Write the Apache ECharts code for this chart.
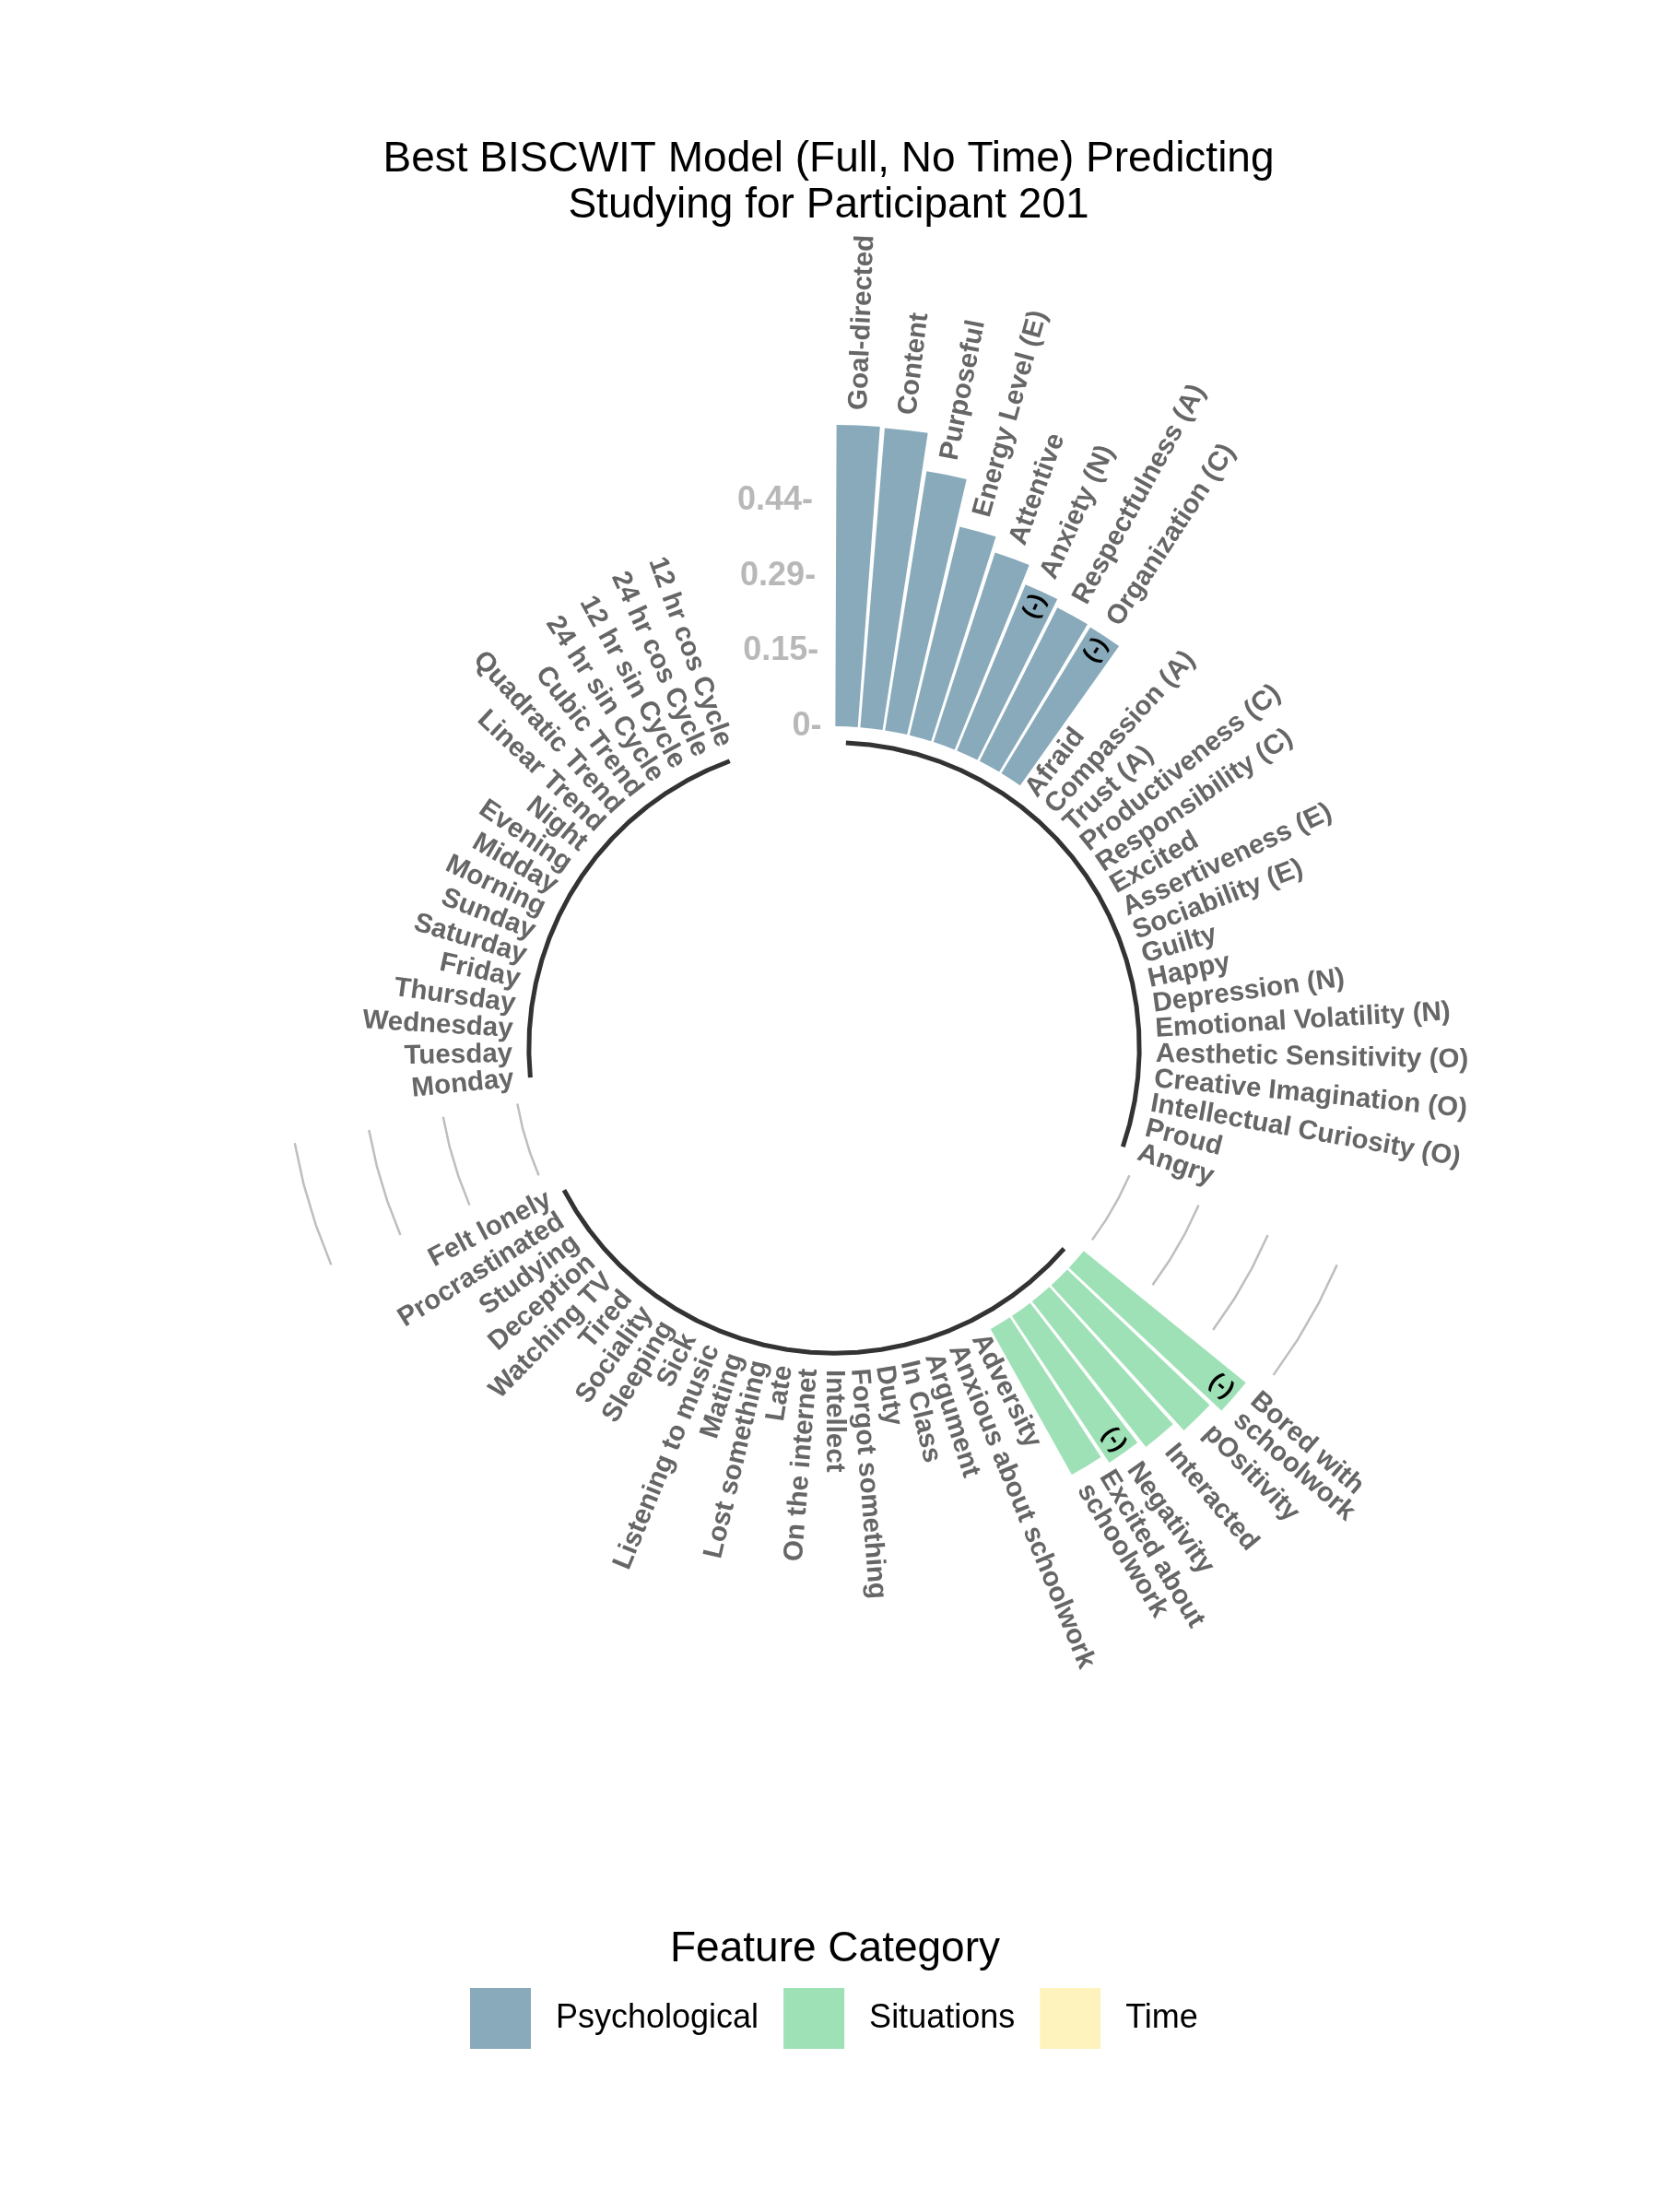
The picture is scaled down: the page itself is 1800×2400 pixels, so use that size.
<!DOCTYPE html>
<html>
<head>
<meta charset="utf-8">
<script src="https://cdn.jsdelivr.net/npm/echarts@6/dist/echarts.min.js"></script>
<style>
html, body { margin: 0; padding: 0; background: #ffffff; }
#chart { width: 1800px; height: 2400px; }
</style>
</head>
<body>
<div id="chart"></div>
<script>
// ---------------- data ----------------
const psychNames = [
  'Goal-directed', 'Content', 'Purposeful', 'Energy Level (E)', 'Attentive',
  'Anxiety (N)', 'Respectfulness (A)', 'Organization (C)', 'Afraid', 'Compassion (A)',
  'Trust (A)', 'Productiveness (C)', 'Responsibility (C)', 'Excited', 'Assertiveness (E)',
  'Sociability (E)', 'Guilty', 'Happy', 'Depression (N)', 'Emotional Volatility (N)',
  'Aesthetic Sensitivity (O)', 'Creative Imagination (O)', 'Intellectual Curiosity (O)', 'Proud', 'Angry'
];
const psychValues = [
  0.587, 0.585, 0.511, 0.418, 0.388,
  0.350, 0.335, 0.333, 0, 0,
  0, 0, 0, 0, 0,
  0, 0, 0, 0, 0,
  0, 0, 0, 0, 0
];
const psychNegative = ['Anxiety (N)', 'Organization (C)'];

const situationNames = [
  'Bored with\nschoolwork', 'pOsitivity', 'Interacted', 'Negativity', 'Excited about\nschoolwork',
  'Adversity', 'Anxious about schoolwork', 'Argument', 'In Class', 'Duty',
  'Forgot something', 'Intellect', 'On the internet', 'Late', 'Lost something',
  'Mating', 'Listening to music', 'Sick', 'Sleeping', 'Sociality',
  'Tired', 'Watching TV', 'Deception', 'Studying', 'Procrastinated', 'Felt lonely'
];
const situationValues = [
  0.407, 0.383, 0.360, 0.343, 0.325,
  0, 0, 0, 0, 0,
  0, 0, 0, 0, 0,
  0, 0, 0, 0, 0,
  0, 0, 0, 0, 0, 0
];
const situationNegative = ['Bored with\nschoolwork', 'Negativity'];

const timeNames = [
  'Monday', 'Tuesday', 'Wednesday', 'Thursday', 'Friday', 'Saturday', 'Sunday',
  'Morning', 'Midday', 'Evening', 'Night', 'Linear Trend', 'Quadratic Trend', 'Cubic Trend',
  '24 hr sin Cycle', '12 hr sin Cycle', '24 hr cos Cycle', '12 hr cos Cycle'
];
const timeValues = [0, 0, 0, 0, 0, 0, 0, 0, 0, 0, 0, 0, 0, 0, 0, 0, 0, 0];

const tickValues = [0, 0.1468, 0.2935, 0.4403];
const tickLabels = ['0-', '0.15-', '0.29-', '0.44-'];

const groupNames = ['Psychological', 'Situations', 'Time'];
const groupColors = ['#88AABB', '#9EE1B6', '#FFF3BD'];

// ---------------- layout constants ----------------
const EMPTY_SLOTS = 4;
const CENTER = [905, 1137];
const PX_PER_UNIT = 557;
const R_ZERO = 349;
const RADIUS_MIN = -R_ZERO / PX_PER_UNIT;
const RADIUS_MAX = 0.65;
const OUTER = (RADIUS_MAX - RADIUS_MIN) * PX_PER_UNIT;
const BASE_LEVEL = -0.032;
const LABEL_OFFSET = 0.03;
const MINUS_OFFSET = 0.032;
const FONT = '"Liberation Sans", Arial, Helvetica, sans-serif';

// ---------------- build slots ----------------
const groups = [
  { names: psychNames, values: psychValues, neg: psychNegative },
  { names: situationNames, values: situationValues, neg: situationNegative },
  { names: timeNames, values: timeValues, neg: [] }
];
const slots = [];
const groupRange = [];
groups.forEach((g, gi) => {
  const first = slots.length;
  g.names.forEach((n, i) => slots.push({ gi: gi, name: n, value: g.values[i], neg: g.neg.indexOf(n) >= 0 }));
  groupRange.push([first, slots.length - 1]);
  for (let k = 0; k < EMPTY_SLOTS; k++) slots.push({ gi: gi, name: null, value: null, neg: false });
});
const N = slots.length;
const categories = slots.map((s, i) => s.name ? s.name : ('gap' + i));

// labels
const labelItems = [];
const minusItems = [];
slots.forEach((s, i) => {
  if (!s.name) return;
  let ang = 90 - 360 * (i + 0.5) / N;
  let align = 'left';
  if (ang < -90) { ang += 180; align = 'right'; }
  labelItems.push({ value: [s.value > 0 ? s.value + LABEL_OFFSET : 0, i], text: s.name, rot: ang, align: align });
  if (s.neg) minusItems.push({ value: [s.value - MINUS_OFFSET, i], text: '(-)', rot: ang, align: 'center' });
});
const tickItems = tickValues.map((v, k) => ({ value: [v, N - 1], text: tickLabels[k], rot: 0, align: 'right' }));

function textSeries(items, color, size) {
  return {
    type: 'custom',
    coordinateSystem: 'polar',
    silent: true,
    z: 10,
    data: items.map(d => d.value),
    renderItem: function (params, api) {
      const it = items[params.dataIndex];
      const p = api.coord([api.value(0), api.value(1)]);
      return {
        type: 'text',
        x: p[0],
        y: p[1],
        rotation: it.rot * Math.PI / 180,
        style: {
          text: it.text,
          fill: color,
          fontSize: size,
          fontWeight: 'bold',
          fontFamily: FONT,
          align: it.align,
          verticalAlign: 'middle',
          lineHeight: 28
        }
      };
    }
  };
}

const series = [];
// bars
groupNames.forEach((gname, gi) => {
  series.push({
    name: gname,
    type: 'bar',
    coordinateSystem: 'polar',
    barGap: '-100%',
    barCategoryGap: '10%',
    itemStyle: { color: groupColors[gi] },
    data: slots.map(s => (s.gi === gi && s.name) ? s.value : null),
    z: 2
  });
});
// base black arcs
groupRange.forEach(rg => {
  const pts = [];
  for (let i = rg[0]; i <= rg[1]; i++) pts.push([BASE_LEVEL, i]);
  series.push({
    type: 'line', coordinateSystem: 'polar', data: pts, showSymbol: false, silent: true,
    lineStyle: { color: '#333333', width: 5 }, z: 3
  });
});
// grey grid arcs in gaps before groups 2 and 3
for (let gi = 1; gi < groupRange.length; gi++) {
  const from = groupRange[gi - 1][1] + 1;
  const to = groupRange[gi][0] - 1;
  tickValues.forEach(v => {
    const pts = [];
    for (let i = from; i <= to; i++) pts.push([v, i]);
    series.push({
      type: 'line', coordinateSystem: 'polar', data: pts, showSymbol: false, silent: true,
      lineStyle: { color: '#bebebe', width: 2.5 }, z: 1
    });
  });
}
series.push(textSeries(labelItems, '#666666', 29.5));
series.push(textSeries(minusItems, '#000000', 26));
series.push(textSeries(tickItems, '#b8b8b8', 36));

const option = {
  animation: false,
  backgroundColor: '#ffffff',
  textStyle: { fontFamily: FONT },
  title: [
    {
      text: 'Best BISCWIT Model (Full, No Time) Predicting\nStudying for Participant 201',
      left: 899,
      top: 148,
      padding: 0,
      textAlign: 'center',
      textStyle: { fontSize: 46, fontWeight: 'normal', color: '#000000', lineHeight: 50, fontFamily: FONT }
    },
    {
      text: 'Feature Category',
      left: 906,
      top: 2092,
      padding: 0,
      textAlign: 'center',
      textStyle: { fontSize: 46, fontWeight: 'normal', color: '#000000', lineHeight: 46, fontFamily: FONT }
    }
  ],
  legend: {
    data: groupNames,
    left: 510,
    top: 2157,
    padding: 0,
    orient: 'horizontal',
    icon: 'rect',
    itemWidth: 66,
    itemHeight: 66,
    itemGap: 27,
    selectedMode: false,
    textStyle: { fontSize: 36, color: '#000000', fontFamily: FONT, padding: [0, 0, 0, 22] }
  },
  polar: { center: CENTER, radius: [0, OUTER] },
  angleAxis: {
    type: 'category',
    data: categories,
    startAngle: 90,
    clockwise: true,
    boundaryGap: true,
    axisLine: { show: false },
    axisTick: { show: false },
    axisLabel: { show: false },
    splitLine: { show: false }
  },
  radiusAxis: {
    type: 'value',
    min: RADIUS_MIN,
    max: RADIUS_MAX,
    axisLine: { show: false },
    axisTick: { show: false },
    axisLabel: { show: false },
    splitLine: { show: false }
  },
  series: series
};

const chart = echarts.init(document.getElementById('chart'), null, { renderer: 'canvas' });
chart.setOption(option);
</script>
</body>
</html>
